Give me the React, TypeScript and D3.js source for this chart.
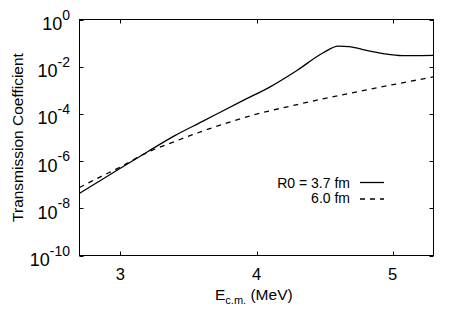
import React from "react";
import * as d3 from "d3";

// R0 = 3.7 fm
const energySolid = [2.7, 3.0, 3.2, 3.4, 3.6, 3.91, 4.1, 4.3, 4.49, 4.6, 4.68, 4.8, 4.93, 5.07, 5.3];
const transSolid = [4.3e-8, 5.0e-7, 2.5e-6, 1.2e-5, 4.7e-5, 3.9e-4, 1.4e-3, 7.1e-3, 3.9e-2, 7.4e-2, 7.1e-2, 5.0e-2, 3.6e-2, 2.95e-2, 3.0e-2];

// R0 = 6.0 fm
const energyDashed = [2.7, 2.85, 3.0, 3.19, 3.4, 3.64, 3.95, 4.3, 4.7, 5.3];
const transDashed = [7.6e-8, 2.1e-7, 5.6e-7, 2.2e-6, 6.8e-6, 2.2e-5, 8.1e-5, 2.5e-4, 7.8e-4, 3.7e-3];

const xTicks = [3, 4, 5];
const yExponents = [0, -2, -4, -6, -8, -10];
const legendLabels = ["R0 = 3.7 fm", "6.0 fm"];

const W = 463;
const H = 324;
const left = 79.5;
const right = 433.5;
const top = 19.5;
const bottom = 255.5;
const font = "'Liberation Sans', Arial, Helvetica, sans-serif";

export default function App() {
  const x = d3.scaleLinear().domain([2.7, 5.3]).range([left, right]);
  const y = d3.scaleLog().domain([1e-10, 1]).range([bottom, top]);

  const line = d3
    .line<[number, number]>()
    .x((d) => x(d[0]))
    .y((d) => y(d[1]))
    .curve(d3.curveMonotoneX);

  const solid = line(energySolid.map((e, i) => [e, transSolid[i]]) as [number, number][]) || "";
  const dashed = line(energyDashed.map((e, i) => [e, transDashed[i]]) as [number, number][]) || "";

  const tickLen = 4;

  return (
    <svg
      width={W}
      height={H}
      style={{ position: "absolute", left: 0, top: 0, background: "#fff" }}
      fontFamily={font}
    >
      {/* ticks */}
      {xTicks.map((t) => (
        <g key={"xt" + t} stroke="#000" strokeWidth={1}>
          <line x1={Math.round(x(t)) + 0.5} x2={Math.round(x(t)) + 0.5} y1={bottom} y2={bottom - tickLen} />
          <line x1={Math.round(x(t)) + 0.5} x2={Math.round(x(t)) + 0.5} y1={top} y2={top + tickLen} />
        </g>
      ))}
      {yExponents.map((e) => (
        <g key={"yt" + e} stroke="#000" strokeWidth={1}>
          <line x1={left} x2={left + tickLen} y1={Math.round(y(10 ** e)) + 0.5} y2={Math.round(y(10 ** e)) + 0.5} />
          <line x1={right} x2={right - tickLen} y1={Math.round(y(10 ** e)) + 0.5} y2={Math.round(y(10 ** e)) + 0.5} />
        </g>
      ))}

      {/* curves */}
      <path d={solid} fill="none" stroke="#000" strokeWidth={1.3} />
      <path d={dashed} fill="none" stroke="#000" strokeWidth={1.3} strokeDasharray="5,5" />

      {/* frame */}
      <rect x={left} y={top} width={right - left} height={bottom - top} fill="none" stroke="#000" strokeWidth={1} />

      {/* x tick labels */}
      {xTicks.map((t) => (
        <text key={"xl" + t} x={x(t)} y={279.5} fontSize={16.5} textAnchor="middle" fill="#000">
          {t}
        </text>
      ))}

      {/* y tick labels */}
      {yExponents.map((e) => (
        <text key={"yl" + e} x={70} y={y(10 ** e) + 10.5} textAnchor="end" fill="#000" fontSize={18}>
          10
          <tspan fontSize={14} dy={-10.5}>
            {e}
          </tspan>
        </text>
      ))}

      {/* axis titles */}
      <text x={215} y={300} fontSize={15.5} fill="#000">
        E
        <tspan fontSize={11} dy={3.5}>c.m.</tspan>
        <tspan dy={-3.5}> (MeV)</tspan>
      </text>
      <text
        transform={`translate(23, ${(top + bottom) / 2}) rotate(-90)`}
        textAnchor="middle"
        fontSize={15.5}
        fill="#000"
      >
        Transmission Coefficient
      </text>

      {/* legend */}
      {legendLabels.map((l, i) => (
        <g key={l}>
          <text x={350} y={187.5 + i * 15.5} textAnchor="end" fontSize={14} fill="#000">
            {l}
          </text>
          <line
            x1={360}
            x2={384}
            y1={182.5 + i * 16.5}
            y2={182.5 + i * 16.5}
            stroke="#000"
            strokeWidth={1.3}
            strokeDasharray={i === 1 ? "5,5" : undefined}
          />
        </g>
      ))}
    </svg>
  );
}
